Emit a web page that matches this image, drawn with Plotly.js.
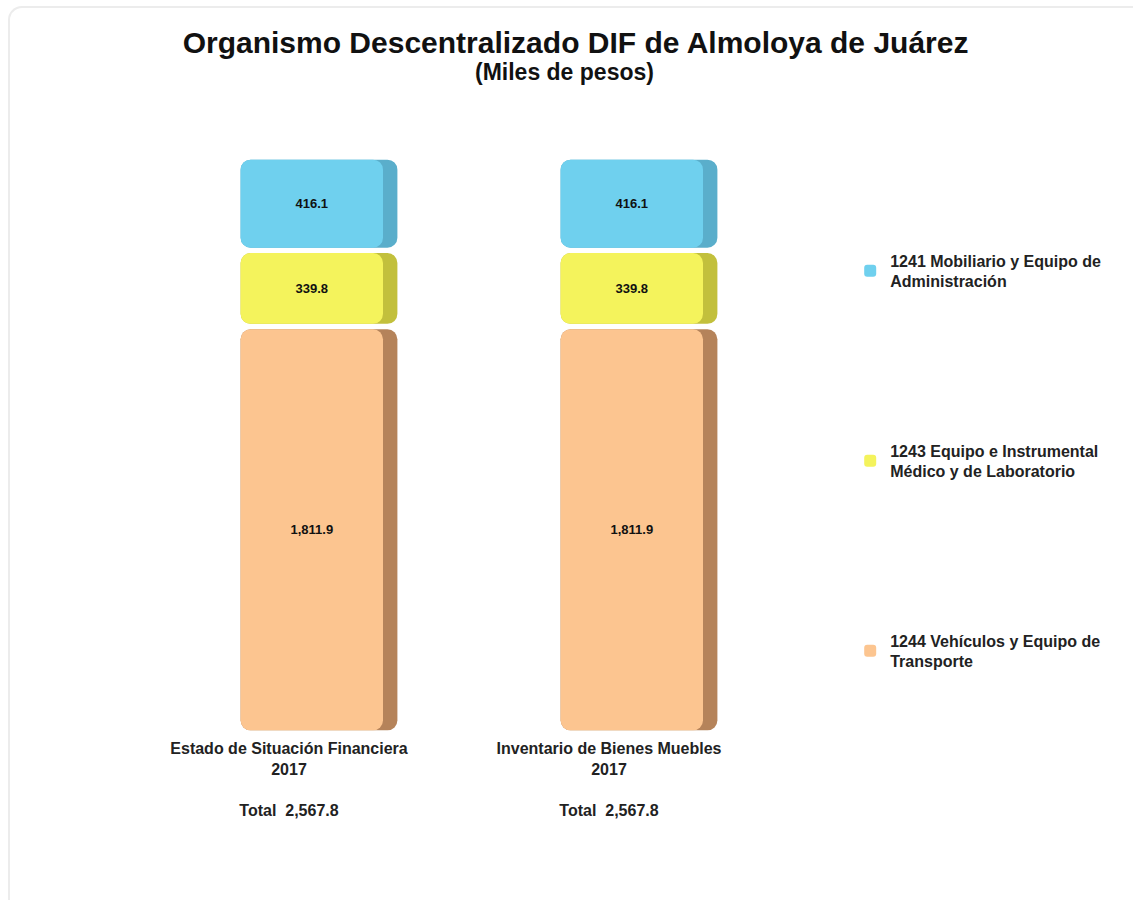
<!DOCTYPE html>
<html>
<head>
<meta charset="utf-8">
<script src="https://cdn.plot.ly/plotly-3.0.1.min.js"></script>
<style>
  body { margin: 0; background: #fff; }
  #wrap { position: relative; width: 1133px; height: 900px; overflow: hidden; }
  #chart { width: 1133px; height: 900px; }
  #frame { position: absolute; left: 8px; top: 6px; width: 1140px; height: 900px;
           border-left: 2px solid #ececec; border-top: 2px solid #ececec;
           border-top-left-radius: 14px; pointer-events: none; }
</style>
</head>
<body>
<div id="wrap">
  <div id="chart"></div>
  <div id="frame"></div>
</div>
<script>
// categories (x axis) and the three account series
let categories = ["Estado de Situación Financiera<br>2017", "Inventario de Bienes Muebles<br>2017"];
let vehiculos = [1811.9, 1811.9];   // 1244
let medico = [339.8, 339.8];        // 1243
let mobiliario = [416.1, 416.1];    // 1241

let names = [
    "1244 Vehículos y Equipo de<br>Transporte",
    "1243 Equipo e Instrumental<br>Médico y de Laboratorio",
    "1241 Mobiliario y Equipo de<br>Administración"
];
let faceColors = ["#fcc590", "#f4f35c", "#6fd0ee"];
let sideColors = ["#b5835a", "#c2c03c", "#5aaecb"];
let series = [vehiculos, medico, mobiliario];

let fmt = v => v.toLocaleString("en-US", {minimumFractionDigits: 1, maximumFractionDigits: 1});

let totals = categories.map((c, i) => series.reduce((s, arr) => s + arr[i], 0));
let tickText = categories.map((c, i) => c + "<br><br>Total  " + fmt(totals[i]));
let xs = [0, 1];

// small white gap between stacked blocks (data units)
let pad = 12;
let FONT = "Liberation Sans, Arial, sans-serif";

let traces = [];
let cum = [0, 0];
series.forEach((vals, k) => {
    let base = cum.map(b => b + pad);
    let h = vals.map(v => v - 2 * pad);
    // darker right side (3D look), drawn underneath
    traces.push({
        type: "bar", x: xs, y: h, base: base,
        width: 0.49, offset: -0.245,
        marker: {color: sideColors[k], cornerradius: 10},
        showlegend: false, hoverinfo: "skip"
    });
    // front face with value label
    traces.push({
        type: "bar", x: xs, y: h, base: base,
        width: 0.445, offset: -0.245,
        name: names[k],
        legend: ["legend3", "legend2", "legend"][k],
        marker: {color: faceColors[k], cornerradius: 10},
        text: vals.map(fmt), textposition: "inside", insidetextanchor: "middle",
        textfont: {family: FONT, size: 13, weight: "bold", color: "#111"},
        constraintext: "none",
        hoverinfo: "skip"
    });
    cum = cum.map((b, i) => b + vals[i]);
});

let legendFont = {family: FONT, size: 16, weight: "bold", color: "#222"};
let layout = {
    width: 1133, height: 900,
    paper_bgcolor: "#fff", plot_bgcolor: "#fff",
    margin: {l: 159, r: 334, t: 157, b: 167},
    barmode: "overlay",
    title: {
        text: "<b>Organismo Descentralizado DIF de Almoloya de Juárez</b>",
        font: {family: FONT, size: 30, color: "#111"},
        x: 0.508, xanchor: "center", yref: "container", y: 0.953, yanchor: "middle"
    },
    annotations: [{
        text: "<b>(Miles de pesos)</b>", xref: "paper", yref: "paper",
        x: 0.634, y: 1.1476, xanchor: "center", yanchor: "middle", showarrow: false,
        font: {family: FONT, size: 23, color: "#111"}
    }],
    xaxis: {
        range: [-0.5, 1.5], tickvals: xs, ticktext: tickText,
        showgrid: false, zeroline: false, showline: false, ticks: "",
        ticklabelshift: -30, ticklabelstandoff: 4,
        tickfont: {family: FONT, size: 16, weight: "bold", color: "#222"},
        fixedrange: true
    },
    yaxis: {
        range: [0, totals[0]], visible: false, fixedrange: true
    },
    legend: {x: 1.08, y: 0.85, xanchor: "left", yanchor: "top", font: legendFont},
    legend2: {x: 1.08, y: 0.52, xanchor: "left", yanchor: "top", font: legendFont},
    legend3: {x: 1.08, y: 0.19, xanchor: "left", yanchor: "top", font: legendFont},
    showlegend: true
};

Plotly.newPlot("chart", traces, layout, {displayModeBar: false, staticPlot: true});
</script>
</body>
</html>
